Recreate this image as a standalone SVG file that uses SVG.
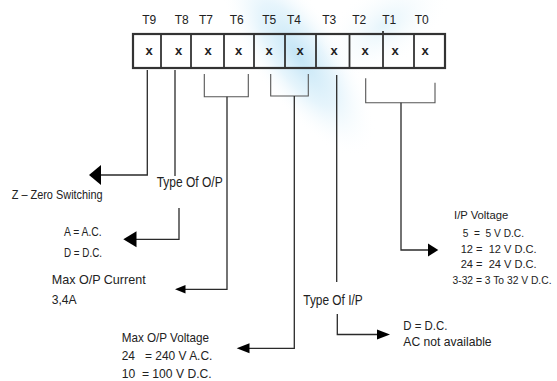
<svg xmlns="http://www.w3.org/2000/svg" width="557" height="381" viewBox="0 0 557 381">
<defs>
<radialGradient id="wm">
<stop offset="0" stop-color="#bfe3f5" stop-opacity="0.95"/>
<stop offset="0.5" stop-color="#d6eefa" stop-opacity="0.6"/>
<stop offset="1" stop-color="#ffffff" stop-opacity="0"/>
</radialGradient>
<radialGradient id="wm2">
<stop offset="0" stop-color="#d8eff9" stop-opacity="0.7"/>
<stop offset="1" stop-color="#ffffff" stop-opacity="0"/>
</radialGradient>
<style>
.lbl{font-family:"Liberation Sans",Arial,sans-serif;font-size:12px;fill:#222;text-anchor:middle}
.cx{font-family:"Liberation Sans",Arial,sans-serif;font-size:13px;font-weight:bold;fill:#222;text-anchor:middle}
.t{font-family:"Liberation Sans",Arial,sans-serif;font-size:12.5px;fill:#222}
.s{font-size:11px}
.m{font-size:13.5px}
.l{font-size:15px}
.box{fill:none;stroke:#333;stroke-width:2.2}
.div{stroke:#333;stroke-width:1.8}
.ln{fill:none;stroke:#2a2a2a;stroke-width:1.3}
.br{fill:none;stroke:#555;stroke-width:1.1}
.ah{fill:#000}
</style>
</defs>
<rect width="557" height="381" fill="#ffffff"/>
<g id="watermark">
<ellipse cx="298" cy="55" rx="45" ry="120" transform="rotate(-35 298 55)" fill="url(#wm)"/>
<ellipse cx="385" cy="25" rx="40" ry="75" transform="rotate(55 385 25)" fill="url(#wm2)"/>
</g>
<g id="register">
<rect class="box" x="133" y="34" width="312" height="34"/>
<line class="div" x1="161" y1="34" x2="161" y2="68"/>
<line class="div" x1="191" y1="34" x2="191" y2="68"/>
<line class="div" x1="224" y1="34" x2="224" y2="68"/>
<line class="div" x1="254" y1="34" x2="254" y2="68"/>
<line class="div" x1="285" y1="34" x2="285" y2="68"/>
<line class="div" x1="316" y1="34" x2="316" y2="68"/>
<line class="div" x1="349.5" y1="34" x2="349.5" y2="68"/>
<line class="div" x1="383" y1="31" x2="383" y2="68"/>
<line class="div" x1="414" y1="34" x2="414" y2="68"/>
<text class="lbl" x="149.3" y="23.5">T9</text>
<text class="lbl" x="181.7" y="23.5">T8</text>
<text class="lbl" x="206" y="23.5">T7</text>
<text class="lbl" x="236.7" y="23.5">T6</text>
<text class="lbl" x="269.3" y="23.5">T5</text>
<text class="lbl" x="294" y="23.5">T4</text>
<text class="lbl" x="329.3" y="23.5">T3</text>
<text class="lbl" x="359.3" y="23.5">T2</text>
<text class="lbl" x="389.3" y="23.5">T1</text>
<text class="lbl" x="421.7" y="23.5">T0</text>
<text class="cx" x="149" y="54.5">x</text>
<text class="cx" x="178.5" y="54.5">x</text>
<text class="cx" x="208" y="54.5">x</text>
<text class="cx" x="238.5" y="54.5">x</text>
<text class="cx" x="269" y="54.5">x</text>
<text class="cx" x="300" y="54.5">x</text>
<text class="cx" x="334" y="54.5">x</text>
<text class="cx" x="365" y="54.5">x</text>
<text class="cx" x="395" y="54.5">x</text>
<text class="cx" x="425" y="54.5">x</text>
</g>
<g id="connectors">
<polyline class="ln" points="147.3,70 147.3,175 100,175"/>
<polygon class="ah" points="89,175 101,165 101,185"/>
<line class="ln" x1="175" y1="70" x2="175" y2="176"/>
<polyline class="ln" points="179,208 179,239.3 135,239.3"/>
<polygon class="ah" points="123.3,239.3 136.5,231.3 136.5,247.3"/>
<polyline class="br" points="204.3,74 204.3,96.7 248.3,96.7 248.3,74"/>
<polyline class="ln" points="227,96.7 227,289.3 184,289.3"/>
<polygon class="ah" points="175,289.3 185.5,285 185.5,293.6"/>
<polyline class="br" points="270.7,74 270.7,96 308.3,96 308.3,74"/>
<polyline class="ln" points="294.3,96 294.3,348.3 248,348.3"/>
<polygon class="ah" points="236.7,348.3 249.5,343.3 249.5,353.3"/>
<line class="ln" x1="336.7" y1="75" x2="336.7" y2="282"/>
<polyline class="ln" points="337.3,314 337.3,334.5 378,334.5"/>
<polygon class="ah" points="390,334.5 377,329.5 377,339.5"/>
<polyline class="br" points="365.7,78.3 365.7,102.7 435,102.7 435,82.7"/>
<polyline class="ln" points="401,102.7 401,250 429,250"/>
<polygon class="ah" points="438.3,250 428,243.5 428,256.5"/>
</g>
<g id="node-zero-switching">
<text class="t" x="11.7" y="199.3" textLength="91" lengthAdjust="spacingAndGlyphs">Z – Zero Switching</text>
</g>
<g id="node-type-op">
<text class="t l" x="156.7" y="186.7" textLength="66" lengthAdjust="spacingAndGlyphs">Type Of O/P</text>
</g>
<g id="node-ac-dc">
<text class="t" x="64" y="236" textLength="37.7" lengthAdjust="spacingAndGlyphs">A = A.C.</text>
<text class="t" x="64" y="256.7" textLength="38" lengthAdjust="spacingAndGlyphs">D = D.C.</text>
</g>
<g id="node-max-current">
<text class="t m" x="51.7" y="283.5" textLength="94" lengthAdjust="spacingAndGlyphs">Max O/P Current</text>
<text class="t m" x="51.7" y="304" textLength="25" lengthAdjust="spacingAndGlyphs">3,4A</text>
</g>
<g id="node-max-voltage">
<text class="t m" x="121.7" y="341.7" textLength="87.3" lengthAdjust="spacingAndGlyphs">Max O/P Voltage</text>
<text class="t" x="121.7" y="360" textLength="90.7" lengthAdjust="spacingAndGlyphs" xml:space="preserve">24   = 240 V A.C.</text>
<text class="t" x="121.7" y="378.3" textLength="90" lengthAdjust="spacingAndGlyphs" xml:space="preserve">10  = 100 V D.C.</text>
</g>
<g id="node-type-ip">
<text class="t l" x="303.3" y="305" textLength="59.4" lengthAdjust="spacingAndGlyphs">Type Of I/P</text>
</g>
<g id="node-dc">
<text class="t m" x="403.3" y="330" textLength="44" lengthAdjust="spacingAndGlyphs">D = D.C.</text>
<text class="t m" x="403.3" y="346" textLength="88.3" lengthAdjust="spacingAndGlyphs">AC not available</text>
</g>
<g id="node-ip-voltage">
<text class="t s" x="454" y="219.3" textLength="54.3" lengthAdjust="spacingAndGlyphs">I/P Voltage</text>
<text class="t s" x="462.7" y="236.7" textLength="61.3" lengthAdjust="spacingAndGlyphs" xml:space="preserve">5  =  5 V D.C.</text>
<text class="t s" x="460.7" y="253.3" textLength="76" lengthAdjust="spacingAndGlyphs" xml:space="preserve">12 =  12 V D.C.</text>
<text class="t s" x="460.7" y="268.3" textLength="76" lengthAdjust="spacingAndGlyphs" xml:space="preserve">24 =  24 V D.C.</text>
<text class="t s" x="452.5" y="284" textLength="99" lengthAdjust="spacingAndGlyphs">3-32 = 3 To 32 V D.C.</text>
</g>
</svg>
